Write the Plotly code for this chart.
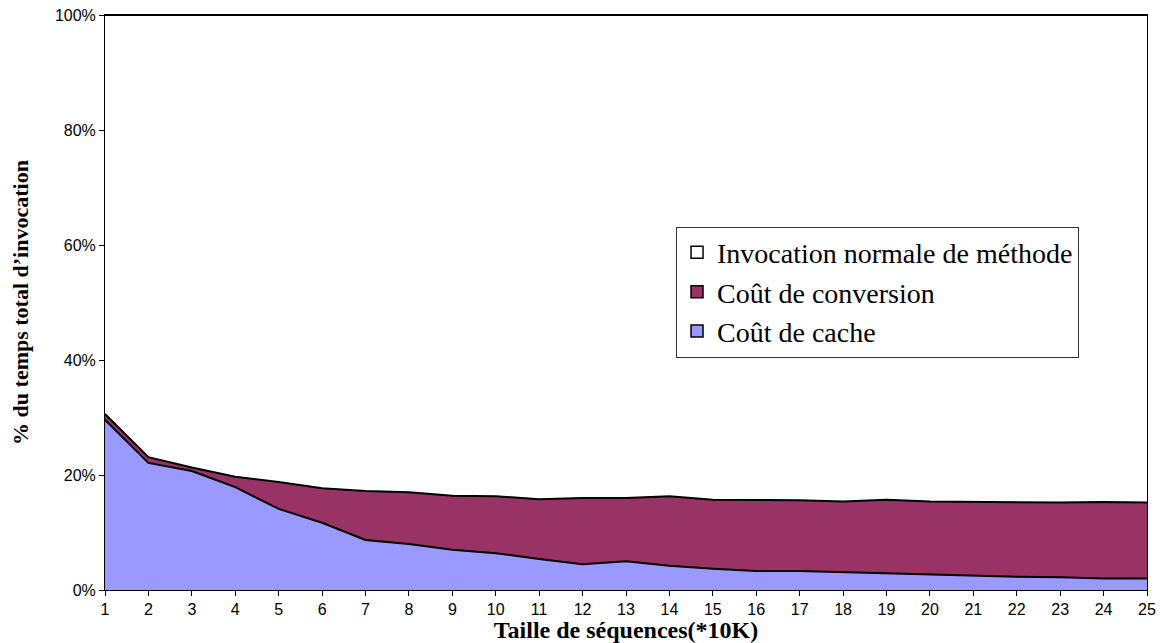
import plotly.graph_objects as go

# Taille de séquences (*10K)
tailles = list(range(1, 26))

# parts en % du temps total d'invocation
cout_cache = [29.6, 22.1, 20.7, 17.9, 14.1, 11.7, 8.7, 8.0, 7.0, 6.4,
              5.4, 4.5, 5.0, 4.2, 3.7, 3.3, 3.3, 3.1, 2.9, 2.7,
              2.4, 2.3, 2.2, 2.0, 2.0]
cout_conversion = [1.0, 1.0, 0.6, 1.8, 4.7, 6.0, 8.5, 9.0, 9.4, 9.9,
                   10.4, 11.5, 11.0, 12.1, 12.0, 12.4, 12.3, 12.3, 12.8, 12.7,
                   12.9, 13.0, 13.0, 13.3, 13.2]
invocation_normale = [round(100 - a - b, 1) for a, b in zip(cout_cache, cout_conversion)]

y_ticks = [0, 20, 40, 60, 80, 100]
y_labels = ["%d%%" % v for v in y_ticks]

noms = ["Coût de cache", "Coût de conversion", "Invocation normale de méthode"]
couleurs = ["#9999FF", "#993366", "#FFFFFF"]

fig = go.Figure()
for i, (nom, vals, coul) in enumerate(zip(noms, [cout_cache, cout_conversion, invocation_normale], couleurs)):
    fig.add_trace(go.Scatter(
        x=tailles, y=vals, name=nom, mode="lines",
        stackgroup="un", fillcolor=coul,
        line=dict(color="black", width=2),
        showlegend=False,
    ))
    # entrée de légende carrée (style Excel)
    fig.add_trace(go.Bar(
        x=[None], y=[None], name=nom,
        marker=dict(color=coul, line=dict(color="black", width=1.5)),
        legendgroup="g%d" % i, hoverinfo="skip",
    ))

# la page html ajoute une marge de 8px autour du graphique
fig.update_layout(
    width=1156, height=635,
    plot_bgcolor="white", paper_bgcolor="white",
    margin=dict(l=97, r=17, t=7, b=53),
    showlegend=True,
    legend=dict(
        x=0.548, y=0.632, xanchor="left", yanchor="top",
        traceorder="reversed", tracegroupgap=15,
        bordercolor="#333333", borderwidth=1, bgcolor="white",
        font=dict(family="Liberation Serif", size=28, color="black"),
        itemwidth=30,
    ),
    font=dict(family="Liberation Sans", color="black"),
)
fig.update_xaxes(
    range=[1, 25], tickmode="linear", tick0=1, dtick=1, automargin=False,
    showgrid=False, showline=True, linecolor="black", linewidth=1, mirror=True,
    ticks="outside", ticklen=5, tickcolor="black", ticklabeloverflow="allow",
    tickfont=dict(family="Liberation Sans", size=16),
    title=dict(text="<b>Taille de séquences(*10K)</b>", standoff=0,
               font=dict(family="Liberation Serif", size=24)),
)
fig.update_yaxes(
    range=[0, 100], tickvals=y_ticks, ticktext=y_labels, automargin=False,
    showgrid=False, showline=True, linecolor="black", linewidth=1, mirror=True,
    ticks="outside", ticklen=5, tickcolor="black", ticklabeloverflow="allow",
    tickfont=dict(family="Liberation Sans", size=16),
    title=dict(text="<b>% du temps total d’invocation</b>", standoff=20,
               font=dict(family="Liberation Serif", size=22)),
)

fig.write_html("out.html")
